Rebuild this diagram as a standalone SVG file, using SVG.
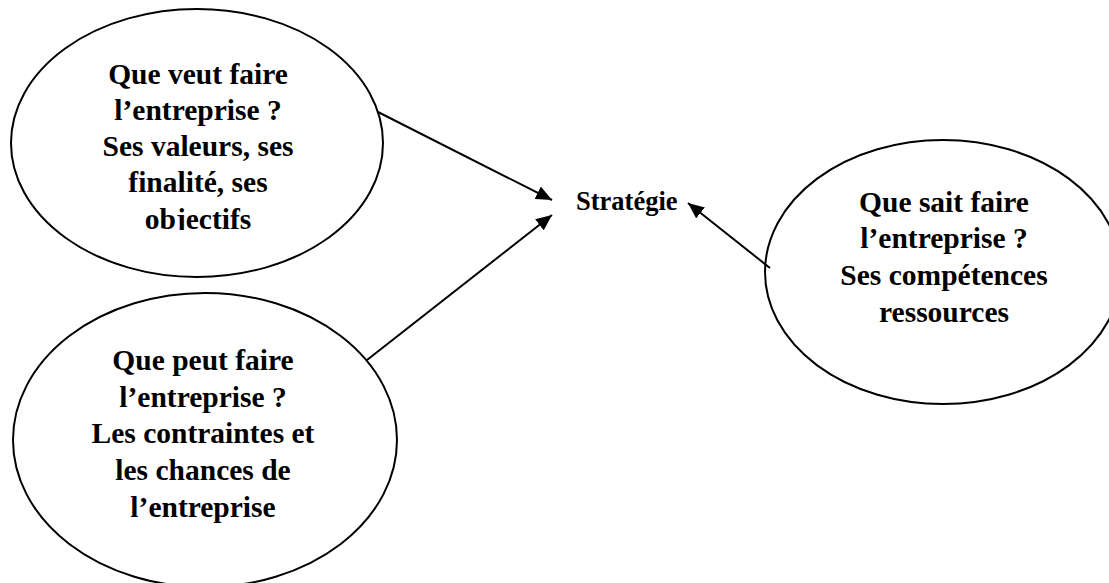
<svg xmlns="http://www.w3.org/2000/svg" width="1109" height="583" viewBox="0 0 1109 583">
<style>
.node ellipse{fill:#fff;stroke:#000;stroke-width:2}
.lbl{font-family:"Liberation Serif","Times New Roman",serif;font-weight:bold;font-size:29.5px;fill:#000;text-anchor:middle}
.center{font-family:"Liberation Serif","Times New Roman",serif;font-weight:bold;font-size:26.5px;fill:#000}
.conn line{stroke:#000;stroke-width:2;marker-end:url(#ah)}
</style>
<defs>
<marker id="ah" viewBox="0 0 16 14" refX="16" refY="7" markerWidth="16" markerHeight="14" markerUnits="userSpaceOnUse" orient="auto">
<path d="M0,0 L16,7 L0,14 Z" fill="#000"/>
</marker>
<clipPath id="c1"><rect x="0" y="0" width="400" height="230"/></clipPath>
</defs>
<rect width="1109" height="583" fill="#fff"/>
<g id="node-veut" class="node">
<ellipse cx="197" cy="143" rx="186" ry="134"/>
<g clip-path="url(#c1)">
<text class="lbl" x="198" y="84">Que veut faire</text>
<text class="lbl" x="198" y="120">l’entreprise ?</text>
<text class="lbl" x="198" y="156">Ses valeurs, ses</text>
<text class="lbl" x="198" y="192">finalité, ses</text>
<text class="lbl" x="198" y="229">objectifs</text>
</g>
</g>
<g id="node-peut" class="node">
<ellipse cx="205" cy="440" rx="192" ry="147"/>
<text class="lbl" x="203" y="370">Que peut faire</text>
<text class="lbl" x="203" y="407">l’entreprise ?</text>
<text class="lbl" x="203" y="443">Les contraintes et</text>
<text class="lbl" x="203" y="480">les chances de</text>
<text class="lbl" x="203" y="517">l’entreprise</text>
</g>
<g id="node-sait" class="node">
<ellipse cx="943" cy="272" rx="178" ry="132"/>
<text class="lbl" x="944" y="212">Que sait faire</text>
<text class="lbl" x="944" y="248">l’entreprise ?</text>
<text class="lbl" x="944" y="285">Ses compétences</text>
<text class="lbl" x="944" y="322">ressources</text>
</g>
<g id="node-strategie">
<text class="center" x="576" y="210">Stratégie</text>
</g>
<g id="connectors" class="conn">
<line x1="378" y1="112" x2="552" y2="200"/>
<line x1="367" y1="360" x2="552" y2="215"/>
<line x1="770" y1="268" x2="688" y2="203"/>
</g>
</svg>
